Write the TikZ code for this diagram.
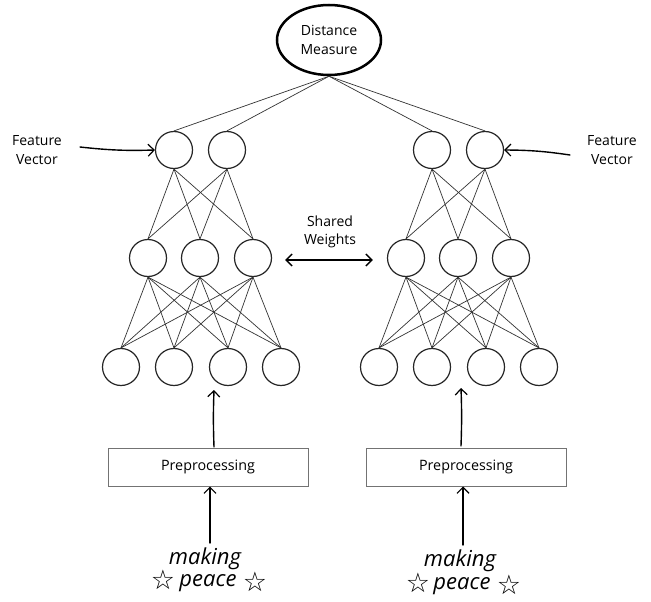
\documentclass[tikz,border=0pt]{standalone}
\usepackage{fontspec}
\setmainfont{Open Sans}
\newfontfamily\symfont{DejaVu Sans}
\usetikzlibrary{arrows.meta,shapes.geometric,calc}
\begin{document}
\begin{tikzpicture}[x=1pt,y=-1pt,
  neuron/.style={circle,draw=black!85,line width=1.2pt,minimum size=37pt,inner sep=0pt},
  conn/.style={draw=black!80,line width=0.7pt},
  hand/.style={-{Straight Barb[length=6pt,width=12pt,line width=1.2pt]},line width=1.4pt,line cap=round},
  lbl/.style={font=\fontsize{14}{18.5}\selectfont,align=center,inner sep=0pt},
  prebox/.style={draw=black!55,line width=1pt,minimum width=200pt,minimum height=38pt,inner sep=0pt,font=\fontsize{14.3}{17}\selectfont},
  scribble/.style={font=\fontsize{22}{22}\selectfont\itshape,inner sep=0pt,align=center},
  star/.style={font=\symfont\fontsize{27}{27}\selectfont,inner sep=0pt}]
\useasboundingbox[fill=white] (0,0) rectangle (651,602);

\node[ellipse,draw,line width=2.5pt,minimum width=104pt,minimum height=70pt,inner sep=0pt,lbl] (dm) at (329,40) {Distance\\Measure};

% left network
\foreach \i/\x in {1/121,2/174,3/228,4/281} \node[neuron] (Lb\i) at (\x,367) {};
\foreach \i/\x in {1/148,2/200,3/253} \node[neuron] (Lm\i) at (\x,258) {};
\foreach \i/\x in {1/174,2/227} \node[neuron] (Lt\i) at (\x,150) {};
% right network
\foreach \i/\x in {1/379,2/432,3/486,4/539} \node[neuron] (Rb\i) at (\x,367) {};
\foreach \i/\x in {1/406,2/458,3/511} \node[neuron] (Rm\i) at (\x,258) {};
\foreach \i/\x in {1/432,2/485} \node[neuron] (Rt\i) at (\x,150) {};

\foreach \s in {L,R}{
  \foreach \a in {1,2,3}{
    \foreach \b in {1,2,3,4}{ \draw[conn] (\s m\a.south) -- (\s b\b.north); }
    \foreach \b in {1,2}{ \draw[conn] (\s t\b.south) -- (\s m\a.north); }
  }
  \foreach \b in {1,2}{ \draw[conn] (dm.south) -- (\s t\b.north); }
}

% feature vector labels
\node[lbl] (fvl) at (37,150) {Feature\\Vector};
\node[lbl] (fvr) at (612,150) {Feature\\Vector};
\coordinate (fvlS) at (80,147);
\coordinate (fvrS) at (570,155);
\draw[hand] (fvlS) to[bend right=4] (Lt1.west);
\draw[hand] (fvrS) to[bend right=4] (Rt2.east);

% shared weights
\node[lbl] (sw) at (330,232) {Shared\\Weights};
\coordinate (swa) at ($(Lm3.east)+(13,2)$);
\coordinate (swb) at ($(Rm1.west)+(-14,2)$);
\draw[{Straight Barb[length=6pt,width=12pt,line width=1.4pt]}-{Straight Barb[length=6pt,width=12pt,line width=1.4pt]},line width=1.8pt] (swa) -- (swb);

% preprocessing
\node[prebox] (pl) at (208,467) {Preprocessing};
\node[prebox] (pr) at (466,467) {Preprocessing};

\coordinate (plT) at (214,447);
\coordinate (plTop) at (214,390);
\draw[hand] (plT) to[bend left=2] (plTop);
\coordinate (prT) at (461,446);
\coordinate (prTop) at (461,388);
\draw[hand] (prT) to[bend right=2] (prTop);

% inputs
\node[scribble] (ml) at (205,559) {making};
\node[scribble] (pl2) at (208,583) {peace};
\node[star] (sl1) at (163,580) {☆};
\node[star] (sl2) at (255,582) {☆};
\node[scribble] (mr) at (460,561) {making};
\node[scribble] (pr2) at (462,586) {peace};
\node[star] (sr1) at (418,583) {☆};
\node[star] (sr2) at (509,585) {☆};
\coordinate (mlT) at (210,543);
\coordinate (mrT) at (463,545);
\draw[hand] (mlT) -- (pl.south -| mlT);
\draw[hand] (mrT) -- (pr.south -| mrT);
\end{tikzpicture}
\end{document}
